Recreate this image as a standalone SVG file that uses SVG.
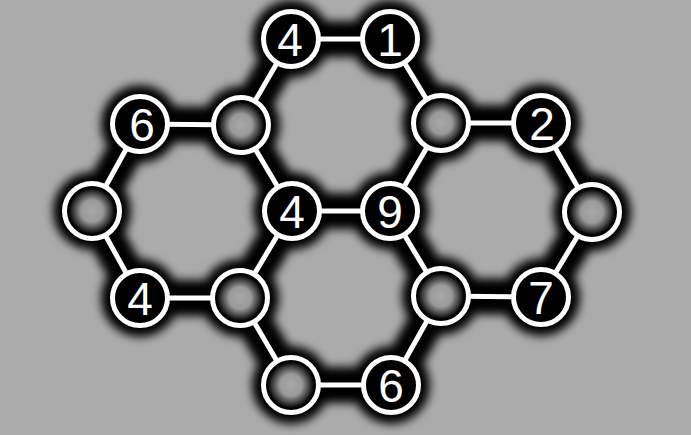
<svg xmlns="http://www.w3.org/2000/svg" width="691" height="435" viewBox="0 0 691 435">
<defs>
<filter id="blur" x="-10%" y="-10%" width="120%" height="120%"><feGaussianBlur stdDeviation="5"/></filter>
<radialGradient id="hollow" cx="0.5" cy="0.5" r="0.5">
<stop offset="0" stop-color="#a8a8a8"/>
<stop offset="0.4" stop-color="#9a9a9a"/>
<stop offset="0.65" stop-color="#454545"/>
<stop offset="0.84" stop-color="#000"/>
<stop offset="1" stop-color="#000"/>
</radialGradient>
</defs>
<style>
.halo line{stroke:#000;stroke-width:36;stroke-linecap:round}
.halo circle{fill:#000}
.edges line{stroke:#fff;stroke-width:5}
.node circle{stroke:#fff;stroke-width:5;fill:#000}
.node.empty circle{fill:url(#hollow)}
.node text{fill:#fff;font-family:"Liberation Sans","DejaVu Sans",sans-serif;font-size:46px;text-anchor:middle}
</style>
<rect width="691" height="435" fill="#ababab"/>
<g class="halo" filter="url(#blur)">
<line x1="291" y1="39" x2="390" y2="39"/>
<line x1="291" y1="39" x2="241" y2="125"/>
<line x1="390" y1="39" x2="441" y2="123"/>
<line x1="140" y1="124" x2="241" y2="125"/>
<line x1="441" y1="123" x2="541" y2="123"/>
<line x1="140" y1="124" x2="92" y2="211"/>
<line x1="241" y1="125" x2="292" y2="211"/>
<line x1="441" y1="123" x2="390" y2="211"/>
<line x1="541" y1="123" x2="592" y2="212"/>
<line x1="292" y1="211" x2="390" y2="211"/>
<line x1="92" y1="211" x2="140" y2="298"/>
<line x1="292" y1="211" x2="240" y2="298"/>
<line x1="390" y1="211" x2="441" y2="296"/>
<line x1="592" y1="212" x2="541" y2="297"/>
<line x1="140" y1="298" x2="240" y2="298"/>
<line x1="441" y1="296" x2="541" y2="297"/>
<line x1="240" y1="298" x2="291" y2="385"/>
<line x1="441" y1="296" x2="391" y2="385"/>
<line x1="291" y1="385" x2="391" y2="385"/>
<circle cx="291" cy="39" r="39"/><circle cx="390" cy="39" r="39"/>
<circle cx="140" cy="124" r="39"/><circle cx="241" cy="125" r="39"/><circle cx="441" cy="123" r="39"/><circle cx="541" cy="123" r="39"/>
<circle cx="92" cy="211" r="39"/><circle cx="292" cy="211" r="39"/><circle cx="390" cy="211" r="39"/><circle cx="592" cy="212" r="39"/>
<circle cx="140" cy="298" r="39"/><circle cx="240" cy="298" r="39"/><circle cx="441" cy="296" r="39"/><circle cx="541" cy="297" r="39"/>
<circle cx="291" cy="385" r="39"/><circle cx="391" cy="385" r="39"/>
</g>
<g id="connectors" class="edges">
<line x1="291" y1="39" x2="390" y2="39"/>
<line x1="291" y1="39" x2="241" y2="125"/>
<line x1="390" y1="39" x2="441" y2="123"/>
<line x1="140" y1="124" x2="241" y2="125"/>
<line x1="441" y1="123" x2="541" y2="123"/>
<line x1="140" y1="124" x2="92" y2="211"/>
<line x1="241" y1="125" x2="292" y2="211"/>
<line x1="441" y1="123" x2="390" y2="211"/>
<line x1="541" y1="123" x2="592" y2="212"/>
<line x1="292" y1="211" x2="390" y2="211"/>
<line x1="92" y1="211" x2="140" y2="298"/>
<line x1="292" y1="211" x2="240" y2="298"/>
<line x1="390" y1="211" x2="441" y2="296"/>
<line x1="592" y1="212" x2="541" y2="297"/>
<line x1="140" y1="298" x2="240" y2="298"/>
<line x1="441" y1="296" x2="541" y2="297"/>
<line x1="240" y1="298" x2="291" y2="385"/>
<line x1="441" y1="296" x2="391" y2="385"/>
<line x1="291" y1="385" x2="391" y2="385"/>
</g>
<g id="n-top4" class="node"><circle cx="291" cy="39" r="27.5"/><text x="290" y="56">4</text></g>
<g id="n-top1" class="node"><circle cx="390" cy="39" r="27.5"/><text x="390" y="56">1</text></g>
<g id="n-6a" class="node"><circle cx="140" cy="124" r="27.5"/><text x="142" y="141">6</text></g>
<g id="n-e1" class="node empty"><circle cx="241" cy="125" r="27.5"/></g>
<g id="n-e2" class="node empty"><circle cx="441" cy="123" r="27.5"/></g>
<g id="n-2" class="node"><circle cx="541" cy="123" r="27.5"/><text x="542" y="140">2</text></g>
<g id="n-e3" class="node empty"><circle cx="92" cy="211" r="27.5"/></g>
<g id="n-c4" class="node"><circle cx="292" cy="211" r="27.5"/><text x="292" y="228">4</text></g>
<g id="n-9" class="node"><circle cx="390" cy="211" r="27.5"/><text x="390" y="228">9</text></g>
<g id="n-e4" class="node empty"><circle cx="592" cy="212" r="27.5"/></g>
<g id="n-b4" class="node"><circle cx="140" cy="298" r="27.5"/><text x="140" y="315">4</text></g>
<g id="n-e5" class="node empty"><circle cx="240" cy="298" r="27.5"/></g>
<g id="n-e6" class="node empty"><circle cx="441" cy="296" r="27.5"/></g>
<g id="n-7" class="node"><circle cx="541" cy="297" r="27.5"/><text x="541" y="314">7</text></g>
<g id="n-e7" class="node empty"><circle cx="291" cy="385" r="27.5"/></g>
<g id="n-6b" class="node"><circle cx="391" cy="385" r="27.5"/><text x="391" y="402">6</text></g>
</svg>
